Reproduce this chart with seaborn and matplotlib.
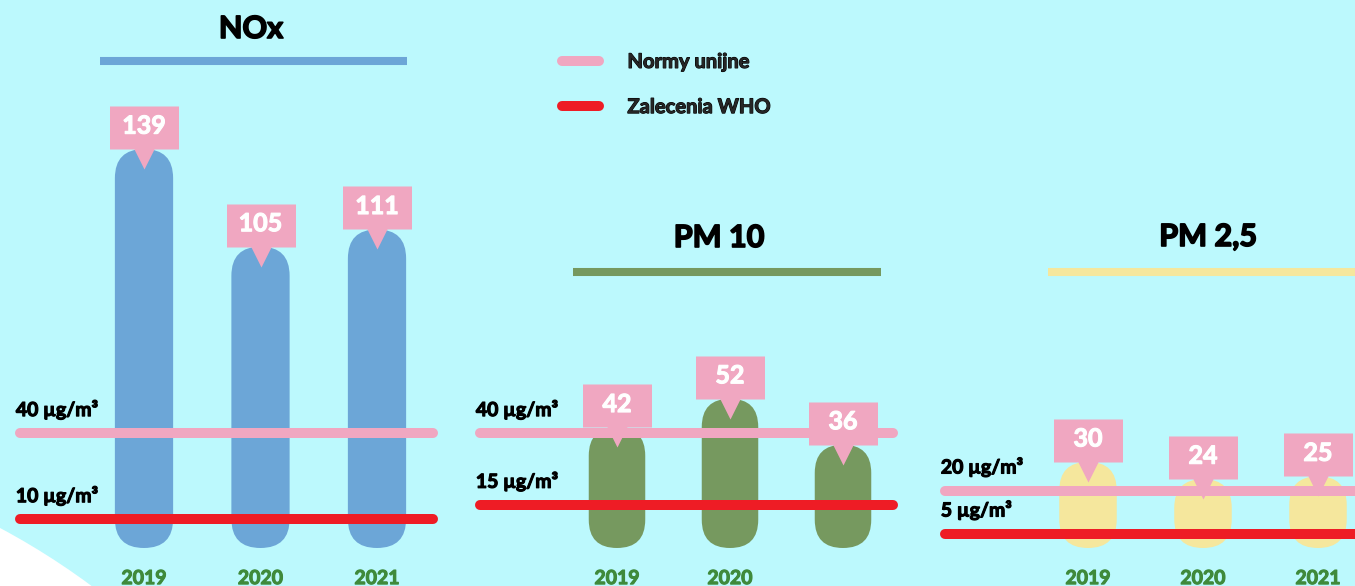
import matplotlib
matplotlib.use("Agg")
import matplotlib.pyplot as plt
import matplotlib.patheffects as pe
from matplotlib.lines import Line2D
from matplotlib.patches import FancyBboxPatch, Ellipse
from matplotlib.path import Path
import pandas as pd
import seaborn as sns

# dane
YEARS = ["2019", "2020", "2021"]
NOX = [139, 105, 111]
PM10 = [42, 52, 36]
PM25 = [30, 24, 25]
TITLES = ["NOx", "PM 10", "PM 2,5"]
EU_NORMS = [40, 40, 20]
WHO_NORMS = [10, 15, 5]
YEAR_LABELS = [["2019", "2020", "2021"], ["2019", "2020", ""], ["2019", "2020", "2021"]]
LEGEND_LABELS = ["Normy unijne", "Zalecenia WHO"]

BG = "#bcf9fd"
PINK = "#f0a7c1"
RED = "#ee1c25"
YEAR_GREEN = "#3f8a3b"
BAR_COLORS = ["#6ca6d7", "#76995f", "#f5e79d"]

W, H = 1355, 586
PX_PER_UNIT = 2.87
ZERO_Y = 548
AXES_BOTTOM = 568

# uklad paneli w pikselach (y liczone od gory)
LAYOUT = [
    dict(c0=144, sp=116.5, title=(251, 29), under=(100, 407, 60.5), lines=(15, 438)),
    dict(c0=617, sp=113, title=(719, 238), under=(573, 881, 272), lines=(475, 898)),
    dict(c0=1088, sp=115, title=(1208, 237), under=(1048, 1370, 272), lines=(940, 1420)),
]


def fx(x):
    return x / W


def fy(y):
    return 1 - y / H


def heavy(color, lw=1.0):
    # pogrubienie kroju (brak wersji Black)
    return [pe.withStroke(linewidth=lw, foreground=color)]


# dymek z wartoscia: prostokat + trojkat w dol (jednostki = piksele)
verts = [(-34.5, 0), (-10, 0), (0, -20), (10, 0), (34.5, 0), (34.5, 43), (-34.5, 43), (-34.5, 0)]
codes = [Path.MOVETO] + [Path.LINETO] * 6 + [Path.CLOSEPOLY]
CALLOUT = Path(verts, codes)
CALLOUT_MS = 2 * 43 * 0.72

sns.set_style("white")
plt.rcParams["font.family"] = ["Lato", "DejaVu Sans"]

fig = plt.figure(figsize=(W / 100, H / 100), dpi=100, facecolor=BG)
fig.add_artist(Ellipse((fx(-347), fy(1177)), 2 * 736 / W, 2 * 736 / H,
                       transform=fig.transFigure, fc="white", ec="none", zorder=-1))

for i, (vals, lay) in enumerate(zip([NOX, PM10, PM25], LAYOUT)):
    left = lay["c0"] - 160
    sp = lay["sp"]
    ax = fig.add_axes([fx(left), fy(AXES_BOTTOM), 480 / W, AXES_BOTTOM / H])
    ax.patch.set_alpha(0)

    df = pd.DataFrame({"rok": YEARS, "wartosc": vals})
    sns.barplot(data=df, x="rok", y="wartosc", color=BAR_COLORS[i], width=0.5,
                saturation=1, errorbar=None, ax=ax)
    ax.set_xlim(-160 / sp, 320 / sp)
    ax.set_ylim(-(AXES_BOTTOM - ZERO_Y) / PX_PER_UNIT, ZERO_Y / PX_PER_UNIT)

    # zaokraglone slupki (ksztalt pigulki)
    aspect = sp / PX_PER_UNIT
    for p in list(ax.patches):
        x, w, h = p.get_x(), p.get_width(), p.get_height()
        p.remove()
        ax.add_patch(FancyBboxPatch((x, 0), w, h,
                                    boxstyle=f"round,pad=0,rounding_size={w / 2}",
                                    mutation_aspect=aspect, fc=BAR_COLORS[i], ec="none", zorder=2))

    # normy
    cap = 5 / sp
    x0 = (lay["lines"][0] - lay["c0"]) / sp + cap
    x1 = (lay["lines"][1] - lay["c0"]) / sp - cap
    for v, col in [(EU_NORMS[i], PINK), (WHO_NORMS[i], RED)]:
        ax.plot([x0, x1], [v, v], color=col, lw=7.2, solid_capstyle="round", zorder=3)
        ax.annotate(f"{v} µg/m³", (x0, v), xytext=(-3, 17), textcoords="offset points",
                    ha="left", va="center", fontsize=14, fontweight="bold", color="black",
                    path_effects=heavy("black", 0.8))

    # dymki z wartosciami
    xs = list(range(len(vals)))
    ax.plot(xs, vals, ls="none", marker=CALLOUT, ms=CALLOUT_MS, mfc=PINK, mec="none", zorder=4)
    for x, v in zip(xs, vals):
        ax.annotate(str(v), (x, v), xytext=(0, 16.5), textcoords="offset points",
                    ha="center", va="center", color="white", fontsize=18,
                    fontweight="bold", zorder=5, path_effects=heavy("white", 0.8))

    ax.set_xticks(xs, YEAR_LABELS[i])
    ax.tick_params(axis="x", length=0, pad=1.5, labelsize=14, labelcolor=YEAR_GREEN)
    for t in ax.get_xticklabels():
        t.set_fontweight("bold")
        t.set_path_effects(heavy(YEAR_GREEN, 0.8))
    ax.set_yticks([])
    ax.set_xlabel("")
    ax.set_ylabel("")
    sns.despine(ax=ax, left=True, bottom=True)

    # tytul i podkreslenie
    tx, ty = lay["title"]
    fig.text(fx(tx), fy(ty), TITLES[i], ha="center", va="center", fontsize=22,
             fontweight="bold", color="black", path_effects=heavy("black", 1.2))
    ux0, ux1, uy = lay["under"]
    fig.add_artist(Line2D([fx(ux0), fx(ux1)], [fy(uy), fy(uy)], transform=fig.transFigure,
                          color=BAR_COLORS[i], lw=5.8, solid_capstyle="butt"))

handles = [Line2D([], [], color=PINK, lw=7.2, solid_capstyle="round"),
           Line2D([], [], color=RED, lw=7.2, solid_capstyle="round")]
leg = fig.legend(handles, LEGEND_LABELS, loc="center left", bbox_to_anchor=(fx(562), fy(84.5)),
                 frameon=False, prop=dict(weight="bold", size=14.5), handlelength=1.85,
                 handletextpad=1.4, labelspacing=1.25, borderpad=0, borderaxespad=0)
for t in leg.get_texts():
    t.set_path_effects(heavy("black", 0.8))

fig.savefig("out.png", dpi=100, facecolor=BG)
